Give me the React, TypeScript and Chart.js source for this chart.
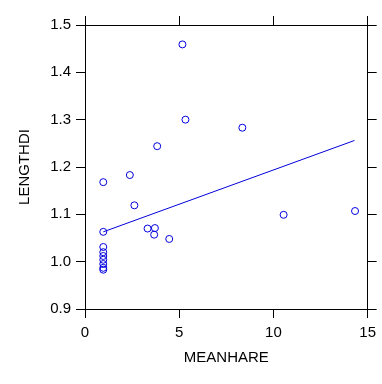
import React, { useEffect, useRef } from "react";
import { Chart, registerables } from "chart.js";

Chart.register(...registerables);

const meanhare = [5.17, 5.33, 8.35, 3.83, 2.38, 0.97, 2.62, 0.97, 3.32, 3.71, 3.67, 4.47, 0.97, 10.54, 14.33, 0.97, 0.97, 0.97, 0.97, 0.97, 0.97];
const lengthdi = [1.459, 1.3, 1.283, 1.244, 1.183, 1.168, 1.119, 1.063, 1.07, 1.071, 1.057, 1.048, 1.031, 1.099, 1.107, 1.02, 1.012, 1.004, 0.995, 0.987, 0.983];
const fitX = [0.97, 14.3];
const fitY = [1.063, 1.256];
const xTicks = [0, 5, 10, 15];
const yTicks = [0.9, 1.0, 1.1, 1.2, 1.3, 1.4, 1.5];

const FONT = "'Liberation Sans', Arial, sans-serif";
const BLUE = "rgb(0,0,220)";

export default function App() {
  const ref = useRef<HTMLCanvasElement>(null);
  useEffect(() => {
    const canvas = ref.current!;
    const font = { family: FONT, size: 15 };
    const fixW = (w: number) => (s: any) => { s.width = w; };
    const fixH = (h: number) => (s: any) => { s.height = h; };
    const grid = { display: true, drawOnChartArea: false, drawTicks: true, tickLength: 9, color: "#000", lineWidth: 1 };
    const border = { display: true, color: "#000", width: 1 };
    const chart = new Chart(canvas, {
      type: "scatter",
      data: {
        datasets: [
          {
            type: "scatter",
            data: meanhare.map((x, i) => ({ x, y: lengthdi[i] })),
            pointStyle: "circle",
            pointRadius: 3.5,
            borderColor: BLUE,
            backgroundColor: "rgba(0,0,0,0)",
            borderWidth: 1,
          },
          {
            type: "line",
            data: fitX.map((x, i) => ({ x, y: fitY[i] })),
            borderColor: BLUE,
            borderWidth: 1,
            pointRadius: 0,
            fill: false,
          } as any,
        ],
      },
      options: {
        responsive: false,
        animation: false,
        events: [],
        layout: { padding: 0 },
        plugins: { legend: { display: false }, tooltip: { enabled: false } },
        scales: {
          x: {
            type: "linear",
            position: "bottom",
            min: 0,
            max: 15,
            afterBuildTicks: (s: any) => { s.ticks = xTicks.map((v) => ({ value: v })); },
            ticks: { font, color: "#000", padding: 6, maxRotation: 0, callback: (v: any) => String(v) },
            grid,
            border,
            title: { display: true, text: "MEANHARE", font, color: "#000", padding: { top: 4, bottom: 17 } },
            afterFit: fixH(75),
          },
          x2: {
            type: "linear",
            position: "top",
            min: 0,
            max: 15,
            afterBuildTicks: (s: any) => { s.ticks = xTicks.map((v) => ({ value: v })); },
            ticks: { display: false },
            grid,
            border,
            afterFit: fixH(25),
          },
          y: {
            type: "linear",
            position: "left",
            min: 0.9,
            max: 1.5,
            afterBuildTicks: (s: any) => { s.ticks = yTicks.map((v) => ({ value: v })); },
            ticks: { font, color: "#000", padding: 5, callback: (v: any) => Number(v).toFixed(1) },
            grid,
            border,
            title: { display: true, text: "LENGTHDI", font, color: "#000", padding: { top: 16, bottom: 4 } },
            afterFit: fixW(85),
          },
          y2: {
            type: "linear",
            position: "right",
            min: 0.9,
            max: 1.5,
            afterBuildTicks: (s: any) => { s.ticks = yTicks.map((v) => ({ value: v })); },
            ticks: { display: false },
            grid,
            border,
            afterFit: fixW(11),
          },
        },
      } as any,
    });
    return () => chart.destroy();
  }, []);
  return (
    <div style={{ position: "fixed", left: 0, top: 0, width: 382, height: 384, background: "#fff" }}>
      <canvas ref={ref} width={382} height={384} style={{ width: 382, height: 384, display: "block" }} />
    </div>
  );
}
